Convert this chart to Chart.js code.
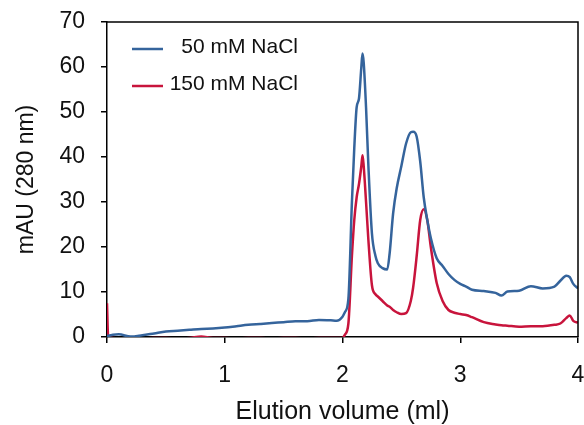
<!DOCTYPE html>
<html>
<head>
<meta charset="utf-8">
<script src="https://cdn.jsdelivr.net/npm/chart.js@4/dist/chart.umd.min.js"></script>
<style>
  html, body { margin: 0; padding: 0; background: #fff; }
  #wrap { width: 584px; height: 425px; }
</style>
</head>
<body>
<div id="wrap"><canvas id="elution"></canvas></div>
<script>
// elution volume (ml), shared by both traces
var volume = [0, 0.01, 0.05, 0.1, 0.2, 0.3, 0.4, 0.5, 0.6, 0.7, 0.8, 0.9, 1.0, 1.1, 1.2, 1.3, 1.4, 1.5, 1.6, 1.7, 1.8, 1.9, 1.95,
  2.0, 2.02, 2.05, 2.08, 2.1, 2.12, 2.14, 2.16, 2.17, 2.18, 2.2, 2.22, 2.25, 2.28, 2.3, 2.34, 2.38, 2.4, 2.43, 2.46, 2.5,
  2.54, 2.58, 2.6, 2.63, 2.66, 2.69, 2.72, 2.75, 2.8, 2.85, 2.9, 2.95, 3.0, 3.05, 3.1, 3.2, 3.3, 3.35, 3.4, 3.5, 3.6, 3.7,
  3.8, 3.85, 3.9, 3.93, 3.96, 4.0];

var nacl50 = [0.3, 0.3, 0.5, 0.6, 0.1, 0.4, 0.8, 1.2, 1.4, 1.6, 1.8, 1.9, 2.1, 2.4, 2.7, 2.9, 3.1, 3.3, 3.5, 3.5, 3.8, 3.7, 3.6,
  4.5, 5.5, 8.5, 30, 42, 51, 53, 60, 63, 61, 51, 38, 23, 18, 16.4, 15.3, 15, 18.5, 27.5, 33, 38,
  43, 45.5, 45.6, 44.5, 39, 31, 26, 22, 17.5, 15.8, 14, 12.7, 11.8, 11.2, 10.5, 10.2, 9.8, 9.2, 10.1, 10.3, 11.3, 10.8,
  11.2, 12.5, 13.6, 13.3, 11.8, 10.8];

var nacl150 = [7.5, 0, -0.2, -0.3, -0.2, -0.3, -0.2, -0.2, -0.3, -0.2, 0.1, -0.2, -0.2, -0.3, -0.2, -0.2, -0.3, -0.2, -0.2, -0.3, -0.2, -0.2, -0.2,
  -0.2, 0.5, 3, 18, 26, 31, 34, 38, 40.4, 38, 30, 21.5, 11.5, 9.5, 9, 8, 7, 6.7, 6, 5.5, 5.1,
  5.3, 8, 11, 18, 26, 28.4, 26, 20, 12, 8, 6, 5.4, 5.1, 4.9, 4.4, 3.3, 2.8, 2.6, 2.5, 2.3, 2.4, 2.4,
  2.7, 3, 4.2, 4.8, 3.6, 3.2];

var seriesNames = [' 50 mM NaCl', '150 mM NaCl'];
var xTicks = [0, 1, 2, 3, 4];
var yTicks = [0, 10, 20, 30, 40, 50, 60, 70];

function toPoints(vals) {
  return volume.map(function(v, i) { return { x: v, y: vals[i] }; });
}

var blue = '#35649c';
var red = '#c8143c';
var font = 'Arial, "Liberation Sans", sans-serif';

// closes the plot box and draws the legend inside it
var frameAndLegend = {
  id: 'frameAndLegend',
  afterDatasetsDraw: function(chart) {
    var ctx = chart.ctx, a = chart.chartArea;
    ctx.save();
    ctx.strokeStyle = '#000';
    ctx.lineWidth = 1.5;
    ctx.beginPath();
    ctx.moveTo(a.left, a.top);
    ctx.lineTo(a.right, a.top);
    ctx.lineTo(a.right, a.bottom);
    ctx.stroke();

    ctx.font = '21px ' + font;
    ctx.textAlign = 'right';
    ctx.textBaseline = 'middle';
    chart.data.datasets.forEach(function(ds, i) {
      var y = a.top + 25 + i * 37;
      ctx.strokeStyle = ds.borderColor;
      ctx.lineWidth = 2.5;
      ctx.beginPath();
      ctx.moveTo(a.left + 25, y + 2);
      ctx.lineTo(a.left + 56, y + 2);
      ctx.stroke();
      ctx.fillStyle = '#111';
      ctx.fillText(ds.label, a.left + 191, y);
    });
    ctx.restore();
  }
};

var ctx = document.getElementById('elution').getContext('2d');

var elutionChart = new Chart(ctx, {
  type: 'line',
  data: {
    datasets: [{
      label: seriesNames[0],
      data: toPoints(nacl50),
      borderColor: blue,
      borderWidth: 2.5,
      pointRadius: 0,
      cubicInterpolationMode: 'monotone'
    },
    {
      label: seriesNames[1],
      data: toPoints(nacl150),
      borderColor: red,
      borderWidth: 2.5,
      pointRadius: 0,
      cubicInterpolationMode: 'monotone'
    }]
  },
  options: {
    responsive: true,
    maintainAspectRatio: false,
    animation: false,
    layout: { padding: { top: 22, right: 6, left: 0, bottom: 0 } },
    plugins: {
      legend: { display: false },
      tooltip: { enabled: false }
    },
    scales: {
      x: {
        type: 'linear',
        min: 0,
        max: 4,
        afterBuildTicks: function(scale) { scale.ticks = xTicks.map(function(v) { return { value: v }; }); },
        afterFit: function(scale) { scale.height = 88; scale.paddingLeft = 0; scale.paddingRight = 0; },
        border: { color: '#000', width: 1.5 },
        grid: { drawOnChartArea: false, color: '#000', tickLength: 6, lineWidth: 1.5 },
        ticks: { color: '#111', font: { size: 23, family: font }, padding: 19, maxRotation: 0 },
        title: { display: true, text: 'Elution volume (ml)', color: '#111', font: { size: 25, family: font, lineHeight: 1 }, padding: { top: 0, bottom: 0 } }
      },
      y: {
        min: 0,
        max: 70,
        afterBuildTicks: function(scale) { scale.ticks = yTicks.map(function(v) { return { value: v }; }); },
        afterFit: function(scale) { scale.width = 107; scale.paddingTop = 0; scale.paddingBottom = 0; },
        border: { color: '#000', width: 1.5 },
        grid: { drawOnChartArea: false, color: '#000', tickLength: 6, lineWidth: 1.5 },
        ticks: { color: '#111', font: { size: 23, family: font }, padding: 16 },
        title: { display: true, text: 'mAU (280 nm)', color: '#111', font: { size: 23, family: font }, padding: { top: 13, bottom: 0 } }
      }
    }
  },
  plugins: [frameAndLegend]
});
</script>
</body>
</html>
